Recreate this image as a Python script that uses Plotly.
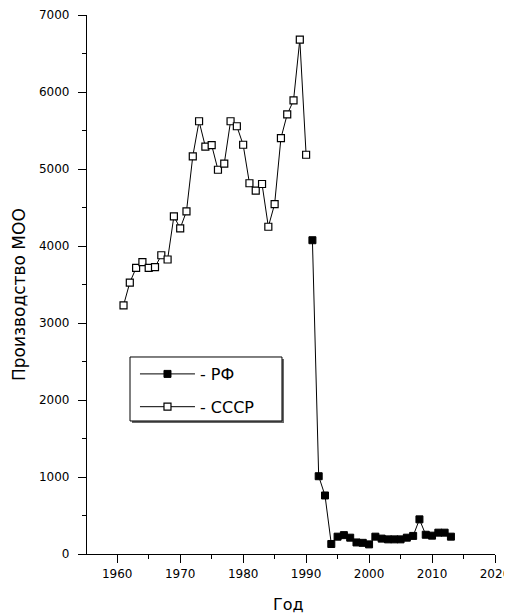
import plotly.graph_objects as go

ussr_years = list(range(1961, 1991))
ussr_vals = [3230, 3525, 3715, 3790, 3715, 3725, 3880, 3825, 4385, 4230,
             4450, 5165, 5620, 5290, 5310, 4990, 5070, 5620, 5555, 5315,
             4815, 4720, 4805, 4250, 4545, 5400, 5710, 5890, 6680, 5185]

rf_years = list(range(1991, 2014))
rf_vals = [4075, 1010, 760, 130, 225, 245, 212, 150, 145, 125,
           225, 200, 190, 190, 190, 212, 235, 450, 250, 238,
           277, 277, 225]

x_ticks = [1960, 1970, 1980, 1990, 2000, 2010, 2020]
y_ticks = [0, 1000, 2000, 3000, 4000, 5000, 6000, 7000]

FONT = "DejaVu Sans, Liberation Sans, Arial, sans-serif"

fig = go.Figure()
fig.add_trace(go.Scatter(
    x=rf_years, y=rf_vals, mode="lines+markers", name="- РФ", legendgroup="rf",
    line=dict(color="black", width=1),
    marker=dict(symbol="square", size=7, color="black", line=dict(color="black", width=1)),
))
fig.add_trace(go.Scatter(
    x=ussr_years, y=ussr_vals, mode="lines+markers", name="- СССР", legendgroup="ussr",
    line=dict(color="black", width=1),
    marker=dict(symbol="square", size=7, color="white", line=dict(color="black", width=1.2)),
))

# legend frame (decoration) with a slight drop shadow, as in the reference
fig.add_shape(type="rect", xref="paper", yref="paper",
              x0=0.1103, x1=0.4828, y0=0.2431, y1=0.3618,
              line=dict(width=0), fillcolor="#666666", layer="above")
fig.add_shape(type="rect", xref="paper", yref="paper",
              x0=0.1054, x1=0.4779, y0=0.2468, y1=0.3655,
              line=dict(color="black", width=1), fillcolor="white", layer="above")

fig.update_layout(
    width=512, height=616,
    margin=dict(l=79, r=25, t=7, b=70),
    paper_bgcolor="white", plot_bgcolor="white",
    font=dict(family=FONT, color="black"),
    showlegend=True,
    legend=dict(
        x=0.1176, y=0.3655, xanchor="left", yanchor="top",
        borderwidth=0, bgcolor="rgba(0,0,0,0)",
        font=dict(size=16, family=FONT), itemwidth=55,
        tracegroupgap=9,
    ),
    xaxis=dict(
        range=[1955.2, 2020], tickvals=x_ticks, ticktext=[str(v) for v in x_ticks],
        showgrid=False, zeroline=False, showline=True, linecolor="black", linewidth=1.3,
        ticks="outside", ticklen=8, tickwidth=1.3, tickcolor="black",
        minor=dict(dtick=5, tick0=1955, ticks="outside", ticklen=4, tickwidth=1.3, tickcolor="black", showgrid=False),
        tickfont=dict(size=12, family=FONT), automargin=False,
    ),
    yaxis=dict(
        range=[0, 7000], tickvals=y_ticks, ticktext=[str(v) for v in y_ticks],
        showgrid=False, zeroline=False, showline=True, linecolor="black", linewidth=1.3,
        ticks="outside", ticklen=8, tickwidth=1.3, tickcolor="black",
        minor=dict(dtick=500, ticks="outside", ticklen=4, tickwidth=1.3, tickcolor="black", showgrid=False),
        tickfont=dict(size=12, family=FONT), automargin=False, ticklabelstandoff=6,
    ),
    annotations=[
        dict(text="Год", xref="paper", yref="paper", x=0.495, y=-0.0928,
             xanchor="center", yanchor="middle", showarrow=False,
             font=dict(size=16, family=FONT)),
        dict(text="Производство МОО", xref="paper", yref="paper", x=-0.1667, y=0.4824,
             xanchor="center", yanchor="middle", showarrow=False, textangle=-90,
             font=dict(size=17, family=FONT)),
    ],
)

fig.write_html("out.html")
